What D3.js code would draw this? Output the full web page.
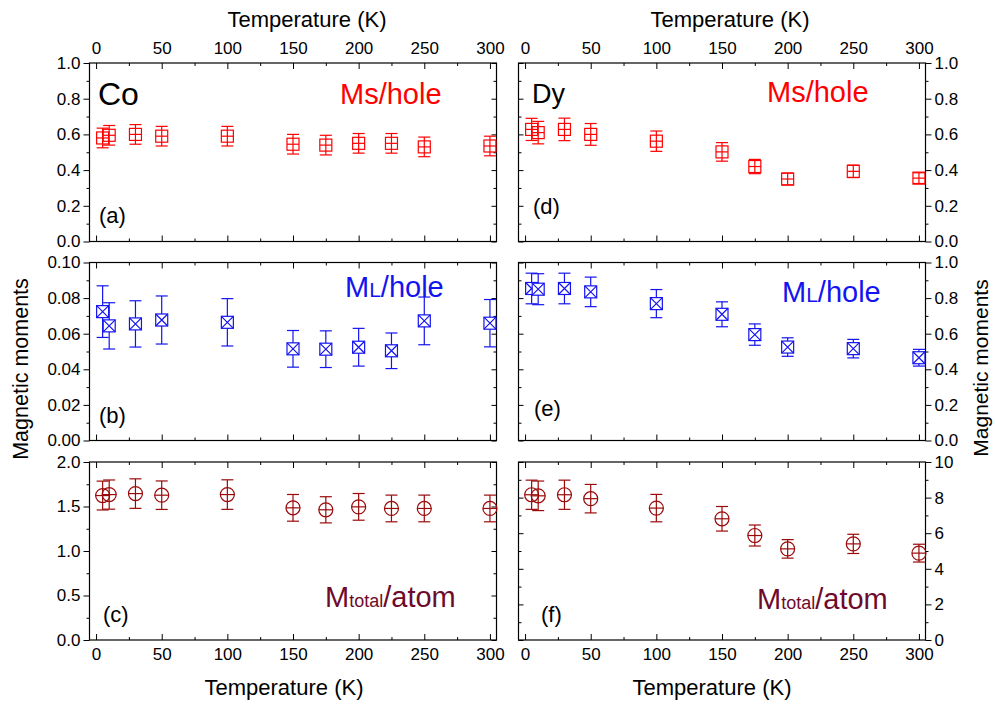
<!DOCTYPE html>
<html>
<head>
<meta charset="utf-8">
<script src="https://cdn.jsdelivr.net/npm/d3@7"></script>
<style>
  body { margin: 0; background: #fff; }
  svg text { font-family: Arial, "Liberation Sans", sans-serif; }
</style>
</head>
<body>
<svg id="chart" width="995" height="705"></svg>
<script>
// temperatures (K)
const coTemps = [5, 10, 30, 50, 100, 150, 175, 200, 225, 250, 300];
const dyTemps = [5, 10, 30, 50, 100, 150, 175, 200, 250, 300];

// Co
const coMs    = [0.58, 0.595, 0.60, 0.59, 0.59, 0.545, 0.54, 0.55, 0.55, 0.53, 0.535];
const coMsErr = [0.055, 0.055, 0.055, 0.055, 0.055, 0.055, 0.055, 0.055, 0.055, 0.055, 0.055];
const coMl    = [0.0724, 0.0644, 0.0655, 0.0677, 0.0664, 0.0515, 0.0513, 0.0524, 0.0504, 0.0672, 0.0659];
const coMlErr = [0.0145, 0.013, 0.013, 0.0135, 0.0133, 0.0103, 0.0103, 0.0106, 0.010, 0.0134, 0.0133];
const coMt    = [1.623, 1.634, 1.645, 1.627, 1.634, 1.485, 1.463, 1.496, 1.478, 1.478, 1.478];
const coMtErr = [0.162, 0.164, 0.166, 0.16, 0.166, 0.15, 0.147, 0.15, 0.15, 0.15, 0.15];

// Dy
const dyMs    = [0.628, 0.61, 0.628, 0.60, 0.562, 0.502, 0.42, 0.35, 0.393, 0.355];
const dyMsErr = [0.062, 0.063, 0.063, 0.061, 0.057, 0.052, 0.04, 0.033, 0.035, 0.03];
const dyMl    = [0.854, 0.85, 0.854, 0.835, 0.769, 0.709, 0.595, 0.525, 0.516, 0.465];
const dyMlErr = [0.086, 0.087, 0.086, 0.083, 0.079, 0.07, 0.06, 0.052, 0.052, 0.047];
const dyMt    = [8.16, 8.1, 8.16, 7.94, 7.41, 6.81, 5.87, 5.12, 5.40, 4.88];
const dyMtErr = [0.82, 0.83, 0.82, 0.80, 0.77, 0.69, 0.59, 0.52, 0.54, 0.50];

const xTicks = [0, 50, 100, 150, 200, 250, 300];
const xMinor = [25, 75, 125, 175, 225, 275];

const RED = "#ff0000", BLUE = "#1414f0", DRED = "#9a0a0a", MAROON = "#6e0a2c";

const svg = d3.select("#chart");

const cols = { left: [89.5, 496.5], right: [518.5, 925.5] };
const rows = [[63, 241.5], [262.5, 440.5], [462, 640]];

const panels = [
  { col: "left", row: 0, temps: coTemps, vals: coMs, errs: coMsErr, dom: [0, 1], major: [0, .2, .4, .6, .8, 1], minor: [.1, .3, .5, .7, .9], fmt: ".1f", marker: "sqPlus", color: RED, tag: "(a)", tagXY: [99, 223] },
  { col: "left", row: 1, temps: coTemps, vals: coMl, errs: coMlErr, dom: [0, 0.1], major: [0, .02, .04, .06, .08, .1], minor: [.01, .03, .05, .07, .09], fmt: ".2f", marker: "sqX", color: BLUE, tag: "(b)", tagXY: [99, 423] },
  { col: "left", row: 2, temps: coTemps, vals: coMt, errs: coMtErr, dom: [0, 2], major: [0, .5, 1, 1.5, 2], minor: [.25, .75, 1.25, 1.75], fmt: ".1f", marker: "circ", color: DRED, tag: "(c)", tagXY: [103, 622] },
  { col: "right", row: 0, temps: dyTemps, vals: dyMs, errs: dyMsErr, dom: [0, 1], major: [0, .2, .4, .6, .8, 1], minor: [.1, .3, .5, .7, .9], fmt: ".1f", marker: "sqPlus", color: RED, tag: "(d)", tagXY: [533, 214] },
  { col: "right", row: 1, temps: dyTemps, vals: dyMl, errs: dyMlErr, dom: [0, 1], major: [0, .2, .4, .6, .8, 1], minor: [.1, .3, .5, .7, .9], fmt: ".1f", marker: "sqX", color: BLUE, tag: "(e)", tagXY: [534, 416] },
  { col: "right", row: 2, temps: dyTemps, vals: dyMt, errs: dyMtErr, dom: [0, 10], major: [0, 2, 4, 6, 8, 10], minor: [1, 3, 5, 7, 9], fmt: "d", marker: "circ", color: DRED, tag: "(f)", tagXY: [541, 622] }
];

function styleAxis(g) {
  g.select(".domain").remove();
  g.selectAll("line").attr("stroke", "#000").attr("stroke-width", 1);
  g.selectAll("text").attr("font-size", 17).attr("fill", "#000")
    .style("font-family", "Arial, 'Liberation Sans', sans-serif");
}

panels.forEach(p => {
  const [x0, x1] = cols[p.col];
  const [y0, y1] = rows[p.row];
  const x = d3.scaleLinear().domain([-5, 305]).range([x0, x1]);
  const y = d3.scaleLinear().domain(p.dom).range([y1, y0]);
  const g = svg.append("g");

  // x axes, ticks inward on top and bottom
  const showTop = p.row === 0, showBottom = p.row === 2;
  g.append("g").attr("transform", `translate(0,${y0})`)
    .call(d3.axisTop(x).tickValues(xTicks).tickSizeInner(-6).tickSizeOuter(0).tickPadding(9)
      .tickFormat(showTop ? d3.format("d") : ""))
    .call(styleAxis);
  g.append("g").attr("transform", `translate(0,${y0})`)
    .call(d3.axisTop(x).tickValues(xMinor).tickSizeInner(-3).tickSizeOuter(0).tickFormat(""))
    .call(styleAxis);
  g.append("g").attr("transform", `translate(0,${y1})`)
    .call(d3.axisBottom(x).tickValues(xTicks).tickSizeInner(-6).tickSizeOuter(0).tickPadding(8)
      .tickFormat(showBottom ? d3.format("d") : ""))
    .call(styleAxis);
  g.append("g").attr("transform", `translate(0,${y1})`)
    .call(d3.axisBottom(x).tickValues(xMinor).tickSizeInner(-3).tickSizeOuter(0).tickFormat(""))
    .call(styleAxis);

  // y axes: outward with labels on the outer side, inward mirror on the other
  const outX = p.col === "left" ? x0 : x1;
  const inX = p.col === "left" ? x1 : x0;
  const axOut = p.col === "left" ? d3.axisLeft : d3.axisRight;
  const axIn = p.col === "left" ? d3.axisRight : d3.axisLeft;
  g.append("g").attr("transform", `translate(${outX},0)`)
    .call(axOut(y).tickValues(p.major).tickSizeInner(6).tickSizeOuter(0).tickPadding(3).tickFormat(d3.format(p.fmt)))
    .call(styleAxis);
  g.append("g").attr("transform", `translate(${outX},0)`)
    .call(axOut(y).tickValues(p.minor).tickSizeInner(3).tickSizeOuter(0).tickFormat(""))
    .call(styleAxis);
  g.append("g").attr("transform", `translate(${inX},0)`)
    .call(axIn(y).tickValues(p.major).tickSizeInner(-5).tickSizeOuter(0).tickFormat(""))
    .call(styleAxis);
  g.append("g").attr("transform", `translate(${inX},0)`)
    .call(axIn(y).tickValues(p.minor).tickSizeInner(-3).tickSizeOuter(0).tickFormat(""))
    .call(styleAxis);

  g.append("rect").attr("x", x0).attr("y", y0).attr("width", x1 - x0).attr("height", y1 - y0)
    .attr("fill", "none").attr("stroke", "#000").attr("stroke-width", 1.2);

  // data
  const data = p.temps.map((t, i) => ({ t, v: p.vals[i], e: p.errs[i] }));
  const pts = g.selectAll(".pt").data(data).enter().append("g").attr("class", "pt")
    .attr("stroke", p.color).attr("stroke-width", 1.2).attr("fill", "none");
  const cap = 6, hs = 6, r = 7;

  pts.append("line")
    .attr("x1", d => x(d.t)).attr("x2", d => x(d.t))
    .attr("y1", d => y(d.v + d.e)).attr("y2", d => y(d.v - d.e));
  pts.append("line")
    .attr("x1", d => x(d.t) - cap).attr("x2", d => x(d.t) + cap)
    .attr("y1", d => y(d.v + d.e)).attr("y2", d => y(d.v + d.e));
  pts.append("line")
    .attr("x1", d => x(d.t) - cap).attr("x2", d => x(d.t) + cap)
    .attr("y1", d => y(d.v - d.e)).attr("y2", d => y(d.v - d.e));

  if (p.marker === "circ") {
    pts.append("circle").attr("cx", d => x(d.t)).attr("cy", d => y(d.v)).attr("r", r);
    pts.append("line")
      .attr("x1", d => x(d.t) - r).attr("x2", d => x(d.t) + r)
      .attr("y1", d => y(d.v)).attr("y2", d => y(d.v));
  } else if (p.marker === "sqPlus") {
    pts.append("rect").attr("x", d => x(d.t) - hs).attr("y", d => y(d.v) - hs)
      .attr("width", 2 * hs).attr("height", 2 * hs);
    pts.append("line")
      .attr("x1", d => x(d.t) - hs).attr("x2", d => x(d.t) + hs)
      .attr("y1", d => y(d.v)).attr("y2", d => y(d.v));
  } else {
    pts.append("rect").attr("x", d => x(d.t) - hs).attr("y", d => y(d.v) - hs)
      .attr("width", 2 * hs).attr("height", 2 * hs).attr("fill", "#fff");
    pts.append("path")
      .attr("d", d => {
        const cx = x(d.t), cy = y(d.v);
        return `M${cx - hs},${cy - hs}L${cx + hs},${cy + hs}M${cx + hs},${cy - hs}L${cx - hs},${cy + hs}`;
      });
  }

  g.append("text").attr("x", p.tagXY[0]).attr("y", p.tagXY[1])
    .attr("font-size", 22).attr("fill", "#000").text(p.tag);
});

// element labels
svg.append("text").attr("x", 98).attr("y", 105).attr("font-size", 32).text("Co");
svg.append("text").attr("x", 532).attr("y", 103).attr("font-size", 27).text("Dy");

// quantity labels
function msLabel(x0, yb) {
  svg.append("text").attr("x", x0).attr("y", yb).attr("font-size", 29).attr("fill", RED).text("Ms/hole");
}
function mlLabel(x0, yb) {
  const t = svg.append("text").attr("x", x0).attr("y", yb).attr("font-size", 29).attr("fill", BLUE);
  t.append("tspan").text("M");
  t.append("tspan").attr("font-size", 21).text("L");
  t.append("tspan").text("/hole");
}
function mtLabel(x0, yb) {
  const t = svg.append("text").attr("x", x0).attr("y", yb).attr("font-size", 29).attr("fill", MAROON);
  t.append("tspan").text("M");
  t.append("tspan").attr("font-size", 18).text("total");
  t.append("tspan").text("/atom");
}
msLabel(340, 104);
msLabel(767, 102);
mlLabel(345, 297);
mlLabel(782, 302);
mtLabel(325, 607);
mtLabel(757, 609);

// axis titles
const titles = [
  [307, 27], [730, 27], [284, 695], [712, 695]
];
titles.forEach(([tx, ty]) => {
  svg.append("text").attr("x", tx).attr("y", ty).attr("text-anchor", "middle")
    .attr("font-size", 22).text("Temperature (K)");
});
svg.append("text").attr("transform", "translate(28,369) rotate(-90)")
  .attr("text-anchor", "middle").attr("font-size", 21.5).text("Magnetic moments");
svg.append("text").attr("transform", "translate(988,368) rotate(-90)")
  .attr("text-anchor", "middle").attr("font-size", 21).text("Magnetic moments");
</script>
</body>
</html>
